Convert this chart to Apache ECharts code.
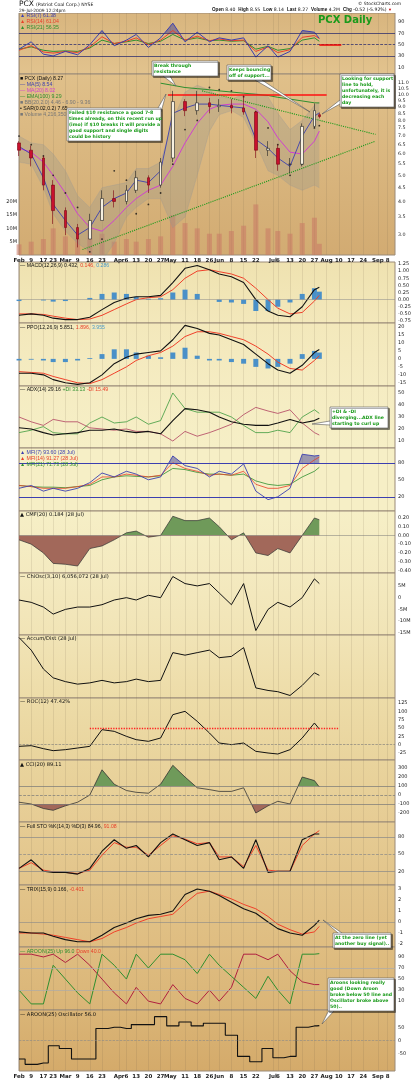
<!DOCTYPE html>
<html>
<head>
<meta charset="utf-8">
<script src="https://cdn.jsdelivr.net/npm/echarts@6/dist/echarts.min.js"></script>
<style>
  html, body { margin: 0; padding: 0; background: #fff; }
  #chart { width: 416px; height: 1080px; }
</style>
</head>
<body>
<div id="chart"></div>
<script>
// weekly sample dates (trading-day category names)
var dates = ['2/2','2/9','2/17','2/23','3/2','3/9','3/16','3/23','3/30','4/6','4/13','4/20','4/27','5/4','5/11','5/18','5/26','6/1','6/8','6/15','6/22','6/29','7/6','7/13','7/20','7/27','7/29'];
var dateLabels = {'2/2':'Feb','2/9':'9','2/17':'17','2/23':'23','3/2':'Mar','3/9':'9','3/16':'16','3/23':'23','4/1':'Apr','4/6':'6','4/13':'13','4/20':'20','4/27':'27','5/1':'May','5/11':'11','5/18':'18','5/26':'26','6/1':'Jun','6/8':'8','6/15':'15','6/22':'22','7/1':'Jul','7/6':'6','7/13':'13','7/20':'20','7/27':'27','8/3':'Aug','8/10':'10','8/17':'17','8/24':'24','9/1':'Sep','9/8':'8'};

// price
var priceOpen  = [6.6,6.2,5.8,4.6,3.7,3.2,2.9,3.4,4.1,4.0,4.4,4.9,4.6,5.8,9.4,8.7,9.3,9.0,9.1,8.9,8.6,6.2,6.3,5.5,5.5,7.6,8.4];
var priceClose = [6.2,5.8,4.6,3.7,3.2,2.9,3.4,4.1,4.0,4.4,4.9,4.6,5.6,9.4,8.7,9.3,9.0,9.1,8.9,8.6,6.2,6.3,5.5,5.5,7.6,8.7,8.27];
var priceLow   = [5.9,5.4,4.4,3.3,3.0,2.7,2.9,3.4,3.8,3.9,4.3,4.3,4.5,5.6,8.3,8.4,8.5,8.6,8.5,8.4,5.8,5.9,5.2,5.1,5.4,7.5,8.14];
var priceHigh  = [6.7,6.45,5.9,4.8,3.8,3.3,3.6,4.4,4.4,4.6,5.2,5.0,5.8,10.3,9.6,10.3,9.7,9.6,9.6,9.9,8.7,6.7,6.5,5.8,7.8,9.25,8.55];
var ma5   = [6.4,6.0,4.9,3.9,3.4,3.0,3.2,3.8,4.1,4.3,4.8,4.7,5.2,8.5,8.9,9.2,9.2,9.1,9.0,8.9,6.8,6.3,5.8,5.4,7.0,8.3,8.54];
var ma20  = [6.3,6.1,5.6,5.0,4.3,3.6,3.2,3.1,3.4,3.8,4.1,4.4,4.6,5.4,6.6,7.8,8.8,9.1,9.2,9.2,8.8,7.9,6.9,6.1,6.0,6.7,7.3];
var ema   = [null,null,null,null,null,null,null,null,null,null,null,null,11.0,10.8,10.6,10.5,10.4,10.3,10.2,10.1,10.0,9.9,9.75,9.6,9.45,9.3,9.29];
var bbUp  = [7.0,6.6,6.5,6.0,5.2,4.2,3.8,4.5,4.6,4.7,5.3,5.3,5.6,8.0,10.2,10.8,10.4,9.8,9.6,10.0,10.1,9.8,8.5,7.4,8.0,9.1,9.36];
var bbLow = [5.6,5.5,4.5,3.6,3.1,2.8,2.6,2.4,2.8,3.5,3.8,4.1,4.1,3.2,3.5,5.0,7.3,8.4,8.7,8.2,6.6,5.2,5.0,4.6,4.4,4.6,4.5];
var sar   = [7.0,6.5,5.9,5.0,4.3,3.8,2.6,2.9,5.2,4.8,3.6,3.9,4.3,5.5,7.4,8.0,10.6,10.4,10.3,9.8,8.6,7.5,6.5,5.0,5.5,7.5,7.65];
var volume = [4,5,6,10,7,6,12,8,5,6,5,6,7,15,12,10,8,8,9,11,19,10,9,8,12,14,4.2];

var rsi7  = [42,55,33,30,38,32,50,75,48,58,68,45,62,88,55,72,55,62,58,62,28,48,28,38,75,72,61];
var rsi14 = [40,48,37,35,38,36,46,64,52,56,62,50,58,75,58,65,57,60,57,58,38,46,36,41,63,66,61];
var rsi21 = [42,46,40,38,39,38,44,58,52,55,58,52,56,68,58,62,57,58,56,57,42,47,40,43,58,62,56];

var macd    = [-0.55,-0.5,-0.55,-0.65,-0.7,-0.7,-0.62,-0.35,-0.1,0.05,0.1,0.1,0.15,0.6,1.1,1.2,1.05,0.9,0.8,0.6,0.0,-0.4,-0.55,-0.6,-0.25,0.35,0.43];
var macdSig = [-0.5,-0.5,-0.52,-0.58,-0.65,-0.7,-0.68,-0.55,-0.35,-0.15,0.0,0.07,0.1,0.35,0.75,1.0,1.05,0.98,0.9,0.75,0.4,0.0,-0.3,-0.5,-0.45,-0.05,0.15];
var macdHist = [-0.05,0,-0.03,-0.07,-0.05,0,0.06,0.2,0.25,0.2,0.1,0.03,0.05,0.25,0.35,0.2,0,-0.08,-0.1,-0.15,-0.4,-0.4,-0.25,-0.1,0.2,0.4,0.28];

var ppo     = [-9,-9,-10,-13,-15,-16,-15,-10,-3,1,3,4,5,12,21,19,16,15,12,9,3,-3,-7,-9,-4,4,5.85];
var ppoSig  = [-8,-8.5,-9,-11,-13,-15,-15.5,-13,-9,-5,-1,2,4,8,14,17,17,16,14,12,8,3,-2,-6,-7,-1,1.9];
var ppoHist = [-1,-0.5,-1,-2,-2,-1,0.5,3,6,6,4,2,1,4,7,2,-1,-1,-2,-3,-5,-6,-5,-3,3,5,4];

var adx     = [21,20,17,15,16,17,19,19,20,18,17,18,16,27,37,36,34,30,26,24,23,23,25,28,25,27,29];
var plusDI  = [17,19,22,17,16,16,25,30,25,26,30,24,27,50,37,34,34,34,30,23,17,17,19,17,30,36,33];
var minusDI = [30,26,23,28,26,26,21,20,19,20,18,18,16,10,18,14,17,20,24,32,38,35,33,36,25,17,15];

var mfi7  = [35,40,30,35,30,35,45,62,55,65,60,50,55,92,75,70,55,65,60,78,30,15,20,35,95,92,93];
var mfi14 = [40,38,35,35,35,38,42,55,55,60,58,55,58,80,70,65,58,60,58,65,42,35,35,40,70,85,90];
var mfi21 = [40,38,37,37,36,38,40,50,55,57,56,55,57,70,68,63,60,60,58,60,48,42,40,42,55,65,72];

var cmf = [-0.05,-0.1,-0.2,-0.32,-0.33,-0.35,-0.15,-0.12,-0.05,0.03,0.05,-0.02,0.0,0.22,0.17,0.17,0.2,0.1,-0.05,0.03,-0.2,-0.23,-0.15,-0.2,0.0,0.2,0.18];
var chiOsc = [-1,-2,-4,-7,-5,-4,-4,-3,-1,0,-1,1,0,9,6,5,6,2,-3,6,-14,-5,-2,-4,0,8,6];
var accDist = [100,90,75,68,65,63,64,66,64,65,67,65,66,88,86,88,90,84,85,92,60,58,57,54,62,72,70];
var roc = [-5,-3,-12,-18,-15,-10,-5,45,40,25,15,10,20,90,100,70,35,5,0,5,-20,-25,-28,-15,20,65,47];
var cci = [-80,-100,-150,-170,-120,-80,0,280,120,50,30,20,120,330,200,80,60,40,40,80,-200,-120,-70,-100,200,160,89];
var stoK = [25,40,20,18,18,15,25,55,75,60,65,45,70,85,75,65,70,40,45,25,75,18,20,20,75,85,85];
var stoD = [25,35,22,19,18,16,22,48,70,62,62,48,65,82,76,68,70,45,45,28,65,22,20,20,65,85,91];
var trix = [-0.9,-1.0,-1.0,-1.3,-1.6,-1.8,-1.8,-1.2,-0.5,-0.1,0.3,0.6,0.7,1.0,2.5,3.0,2.8,2.4,1.8,1.2,0.8,0.0,-0.6,-1.0,-1.2,-0.3,0.17];
var trixSig = [-1.0,-1.0,-1.1,-1.2,-1.4,-1.6,-1.8,-1.5,-0.9,-0.5,-0.1,0.3,0.5,0.7,1.7,2.6,2.8,2.5,2.1,1.6,1.2,0.5,-0.2,-0.7,-1.1,-0.9,-0.4];
var aroonUp   = [30,5,5,75,50,25,5,95,75,50,95,70,95,95,85,60,95,75,55,35,15,55,30,5,95,95,96];
var aroonDown = [95,95,90,95,80,95,75,50,25,5,35,10,5,40,15,5,30,10,35,95,95,85,95,65,45,40,40];
var aroonOsc  = [-70,-90,-85,-20,-30,-70,-70,45,50,45,60,60,90,55,70,55,65,65,20,-60,-80,-30,-65,-60,50,55,56];

// trading-day categories Feb 2 .. Sep 11, 2009
var holidays = {'2/16':1,'4/10':1,'5/25':1,'7/3':1,'9/7':1};
var cats = [];
for (var t = new Date(2009, 1, 2); t <= new Date(2009, 8, 11); t.setDate(t.getDate() + 1)) {
    var wd = t.getDay();
    var key = (t.getMonth() + 1) + '/' + t.getDate();
    if (wd === 0 || wd === 6 || holidays[key]) continue;
    cats.push(key);
}
function pts(arr) { return dates.map(function (d, i) { return [d, arr[i]]; }); }
function isLabel(idx, val) { return dateLabels[val] !== undefined; }

var panels = [
    {top: 13, h: 61, min: -2, max: 106, ticks: [10,30,50,70,90], c1: '#d8b57e', c2: '#e2c38e'},
    {top: 74, h: 181, log: true, c1: '#e0c08a', c2: '#d2ab72'},
    {top: 262, h: 61, min: -0.82, max: 1.32, ticks: [-0.75,-0.5,-0.25,0,0.25,0.5,0.75,1,1.25], fmt: function (v) { return v.toFixed(2); }, c1: '#efe2b0', c2: '#f3e8bb'},
    {top: 323, h: 63, min: -17, max: 22.5, ticks: [-15,-10,-5,0,5,10,15,20], c1: '#f3e8bb', c2: '#f5ecc2'},
    {top: 386, h: 62, min: 4.2, max: 55.8, ticks: [10,20,30,40,50], c1: '#f5ecc2', c2: '#f6efc6'},
    {top: 448, h: 63, min: -5, max: 106, ticks: [20,50,80], c1: '#f6efc6', c2: '#f6efc6'},
    {top: 511, h: 62, min: -0.43, max: 0.28, ticks: [-0.4,-0.3,-0.2,-0.1,0,0.1,0.2], fmt: function (v) { return v.toFixed(2); }, c1: '#f6efc6', c2: '#f4eac0'},
    {top: 573, h: 62, min: -15.9, max: 10.5, ticks: [-15,-10,-5,0,5], fmt: function (v) { return v === 0 ? '0' : v + 'M'; }, c1: '#f4eac0', c2: '#f1e4b6'},
    {top: 635, h: 63, min: 52, max: 102, ticks: [], c1: '#f1e4b6', c2: '#eddca8'},
    {top: 698, h: 62, min: -46, max: 140, ticks: [-25,0,25,50,75,100,125], c1: '#eddca8', c2: '#e9d49d'},
    {top: 760, h: 62, min: -300, max: 389, ticks: [-200,-100,0,100,200,300], c1: '#e9d49d', c2: '#e6cc94'},
    {top: 822, h: 63, min: -4, max: 106, ticks: [20,50,80], c1: '#e6cc94', c2: '#e2c48a'},
    {top: 885, h: 62, min: -2.27, max: 3.36, ticks: [-2,-1,0,1,2,3], c1: '#e2c48a', c2: '#dfbd81'},
    {top: 947, h: 63, min: -6, max: 108, ticks: [10,30,50,70,90], c1: '#dfbd81', c2: '#dab577'},
    {top: 1010, h: 62, min: -115, max: 115, ticks: [-50,0,50], c1: '#dab577', c2: '#d4aa6a'}
];

var grids = [], xAxes = [], yAxes = [];
panels.forEach(function (p, i) {
    grids.push({left: 19, right: 21, top: p.top, height: p.h, show: true, borderColor: '#9a8a78', borderWidth: 1,
        backgroundColor: {type: 'linear', x: 0, y: 0, x2: 0, y2: 1, colorStops: [{offset: 0, color: p.c1}, {offset: 1, color: p.c2}]}});
    xAxes.push({type: 'category', gridIndex: i, data: cats, boundaryGap: false,
        axisLine: {show: false}, axisTick: {show: false},
        axisLabel: {show: i === 1 || i === 14, interval: isLabel, fontSize: 5.5, fontWeight: 'bold', color: '#222', margin: 3,
            formatter: function (v) { return dateLabels[v]; }},
        splitLine: {show: true, interval: isLabel, lineStyle: {color: 'rgba(110,90,70,0.22)', width: 0.6}}});
    var y = {gridIndex: i, position: 'right', scale: true,
        axisLine: {show: false}, axisTick: {show: false},
        axisLabel: {fontSize: 5, color: '#222', margin: 3, customValues: p.ticks, formatter: p.fmt},
        splitLine: {show: false}};
    if (p.log) {
        y.type = 'log'; y.logBase = 10; y.min = 2.53; y.max = 11.9;
        y.axisLabel.customValues = [3.0,3.5,4.0,4.5,5.0,5.5,6.0,6.5,7.0,7.5,8.0,8.5,9.0,9.5,10.0,10.5,11.0];
        y.axisLabel.formatter = function (v) { return v.toFixed(1); };
        y.axisLabel.fontSize = 4.8;
    } else {
        y.type = 'value'; y.min = p.min; y.max = p.max;
    }
    yAxes.push(y);
});
// volume overlay axis on price panel (index 15)
yAxes.push({gridIndex: 1, type: 'value', position: 'left', min: 0, max: 68,
    axisLine: {show: false}, axisTick: {show: false}, splitLine: {show: false},
    axisLabel: {fontSize: 5, color: '#222', margin: 2, customValues: [5,10,15,20], formatter: function (v) { return v + 'M'; }}});

function line(gi, arr, color, w, extra) {
    var s = {type: 'line', xAxisIndex: gi, yAxisIndex: gi, data: pts(arr), symbol: 'none',
        lineStyle: {color: color, width: w || 1}, itemStyle: {color: color}, z: 3};
    for (var k in extra) s[k] = extra[k];
    return s;
}
// reference lines carried by an empty series per panel
function refLines(gi, items) {
    return {type: 'line', xAxisIndex: gi, yAxisIndex: gi, data: [], symbol: 'none', z: 2,
        markLine: {silent: true, symbol: 'none', label: {show: false}, animation: false, data: items}};
}
function h(val, color, type, w) { return {yAxis: val, lineStyle: {color: color, type: type || 'solid', width: w || 0.7}}; }
function seg(a, b, color, type, w) {
    return [{coord: a, lineStyle: {color: color, type: type, width: w}}, {coord: b}];
}
// vertical pixel gradient with hard colour bands (stops in page pixels)
function bands(y0, y1, stops) {
    var cs = [];
    stops.forEach(function (s) {
        cs.push({offset: (s[0] - y0) / (y1 - y0), color: s[1]});
        cs.push({offset: (s[2] - y0) / (y1 - y0), color: s[1]});
    });
    return {type: 'linear', x: 0, y: y0, x2: 0, y2: y1, global: true, colorStops: cs};
}
var bbDiff = bbUp.map(function (v, i) { return v - bbLow[i]; });

var series = [
    refLines(0, [h(70, '#1c1f6b'), h(30, '#1c1f6b'), h(50, '#1c1f6b', 'dashed'), seg(['7/29', 50], ['8/11', 50], '#e00', 'solid', 1.5)]),
    line(0, rsi21, '#2f8f2f', 1),
    line(0, rsi14, '#e8402a', 1),
    line(0, rsi7, '#3b3fb0', 1, {areaStyle: {origin: 50, color: bands(13, 74, [[13, 'rgba(60,60,150,0.7)', 33.3], [33.4, 'rgba(0,0,0,0)', 55.8], [55.9, 'rgba(60,60,150,0.7)', 74]])}}),
    line(1, bbLow, '#9a9a9a', 0.5, {stack: 'bb', lineStyle: {color: 'rgba(150,150,150,0.6)', width: 0.5}}),
    line(1, bbDiff, '#9a9a9a', 0.5, {stack: 'bb', areaStyle: {color: 'rgba(150,150,140,0.45)'}, lineStyle: {color: 'rgba(150,150,150,0.6)', width: 0.5}}),
    {type: 'bar', xAxisIndex: 1, yAxisIndex: 15, data: pts(volume), barWidth: 5,
        itemStyle: {color: 'rgba(200,120,100,0.55)'}, z: 1},
    {type: 'candlestick', xAxisIndex: 1, yAxisIndex: 1, barWidth: 3,
        data: dates.map(function (d, i) { return [d, priceOpen[i], priceClose[i], priceLow[i], priceHigh[i]]; }),
        encode: {x: 0, y: [1, 2, 3, 4]},
        itemStyle: {color: '#f6f0e0', color0: '#c8102e', borderColor: '#222', borderColor0: '#7a0010', borderWidth: 0.6}, z: 5},
    refLines(1, [seg(['4/30', 10], ['8/3', 10], '#ff1010', 'solid', 1.5),
        seg(['3/11', 2.65], ['8/31', 6.7], '#1a9a1a', 'dotted', 1.1),
        seg(['5/20', 10.3], ['8/31', 7.1], '#1a9a1a', 'dotted', 1.1)]),
    line(1, ma20, '#d040d0', 1),
    line(1, ma5, '#3b3fb0', 0.9),
    line(1, ema, '#2f8f2f', 1),
    {type: 'scatter', xAxisIndex: 1, yAxisIndex: 1, data: pts(sar), symbolSize: 1.8, itemStyle: {color: '#111'}, z: 4},
    {type: 'bar', xAxisIndex: 2, yAxisIndex: 2, data: pts(macdHist), barWidth: 5, itemStyle: {color: '#4a90c8'}},
    refLines(2, [h(0, '#888', 'solid', 0.5)]),
    line(2, macdSig, '#f0402a', 1),
    line(2, macd, '#111', 1.1),
    {type: 'bar', xAxisIndex: 3, yAxisIndex: 3, data: pts(ppoHist), barWidth: 5, itemStyle: {color: '#4a90c8'}},
    line(3, ppoSig, '#f0402a', 1),
    line(3, ppo, '#111', 1.1),
    line(4, minusDI, '#b04060', 0.8),
    line(4, plusDI, '#3d9a3d', 0.8),
    line(4, adx, '#111', 1.1),
    refLines(5, [h(80, '#3b3fb0', 'solid', 1.2), h(20, '#3b3fb0', 'solid', 1.2)]),
    line(5, mfi21, '#2f8f2f', 0.8),
    line(5, mfi14, '#e8402a', 0.8),
    line(5, mfi7, '#3b3fb0', 0.9, {areaStyle: {origin: 50, color: bands(448, 511, [[448, 'rgba(60,60,150,0.7)', 462.7], [462.8, 'rgba(0,0,0,0)', 511]])}}),
    refLines(6, [h(0, '#777', 'solid', 0.5)]),
    line(6, cmf, '#333', 0.7, {areaStyle: {origin: 0, opacity: 1, color: bands(511, 573, [[511, '#6f9a5a', 535.3], [535.4, '#a2685a', 573]])}}),
    line(7, chiOsc, '#111', 1),
    line(8, accDist, '#111', 1),
    refLines(9, [h(0, '#777', 'dashed', 0.6), seg(['3/16', 50], ['8/10', 50], '#ff2020', 'dotted', 1.3)]),
    line(9, roc, '#111', 1),
    refLines(10, [h(100, '#777'), h(-100, '#777'), h(0, '#777', 'dashed')]),
    line(10, cci, '#333', 0.8, {areaStyle: {origin: 0, opacity: 1, color: bands(760, 822, [[760, '#6f9a5a', 785.9], [786, 'rgba(0,0,0,0)', 803.9], [804, '#a2685a', 822]])}}),
    refLines(11, [h(80, '#888'), h(20, '#888'), h(50, '#888', 'dashed')]),
    line(11, stoD, '#f0402a', 1),
    line(11, stoK, '#111', 1.1),
    refLines(12, [h(0, '#888', 'solid', 0.6)]),
    line(12, trixSig, '#f0402a', 1),
    line(12, trix, '#111', 1.1),
    refLines(13, [h(70, '#aaa'), h(30, '#aaa')]),
    line(13, aroonDown, '#b02040', 1),
    line(13, aroonUp, '#2f8f2f', 1),
    refLines(14, [h(0, '#888', 'dashed', 0.6)]),
    line(14, aroonOsc, '#111', 1.1, {step: 'middle'})
];

var txt = function (x, y, rich, text, size) {
    return {type: 'text', left: x, top: y, z: 50, style: {text: text, rich: rich, fontSize: size || 5.2, fontFamily: 'DejaVu Sans', fill: '#111', lineHeight: 6}};
};
var titleRich = {r: {fill: '#e8402a', fontSize: 5.2}, g: {fill: '#2f8f2f', fontSize: 5.2}, b: {fill: '#3b3fb0', fontSize: 5.2}, m: {fill: '#d040d0', fontSize: 5.2}, c: {fill: '#4a9ac8', fontSize: 5.2}, x: {fill: '#777', fontSize: 5.2}, k: {fill: '#111', fontSize: 5.2}};
function note(x, y, w, hh, text, tip) {
    var els = [{type: 'rect', shape: {x: x, y: y, width: w, height: hh}, style: {fill: '#fff', stroke: '#555', lineWidth: 0.6, shadowColor: 'rgba(0,0,0,0.5)', shadowOffsetX: 1.5, shadowOffsetY: 1.5}, z: 60},
        {type: 'text', x: x + 2, y: y + 1.5, z: 61, style: {text: text, fill: '#1a9a1a', fontSize: 4.6, fontWeight: 'bold', fontFamily: 'DejaVu Sans', lineHeight: 6}}];
    if (tip) els.push({type: 'polyline', z: 59, shape: {points: tip}, style: {fill: '#fff', stroke: '#555', lineWidth: 0.6}});
    return els;
}
var graphics = [
    {type: 'rect', shape: {x: 0, y: 0, width: 416, height: 13}, style: {fill: '#fff'}},
    txt(19, 0, null, 'PCX', 7.5),
    txt(36, 1.5, null, '(Patriot Coal Corp.) NYSE', 4.6),
    txt(19, 8, null, '29-Jul-2009 12:24pm', 4.4),
    txt(358, 1, null, '© StockCharts.com', 4.4),
    {type: 'text', left: 212, top: 7.5, z: 50, style: {text: '{k|Open} 8.40  {k|High} 8.55  {k|Low} 8.14  {k|Last} 8.27  {k|Volume} 4.2M  {k|Chg} -0.52 (-5.92%) {d|▼}', fontSize: 4.6, fill: '#111', fontFamily: 'DejaVu Sans', rich: {k: {fontWeight: 'bold', fontSize: 4.6}, d: {fill: '#c00', fontSize: 4}}}},
    {type: 'text', left: 318, top: 15, z: 50, style: {text: 'PCX Daily', fontSize: 10, fontWeight: 'bold', fill: '#1a9a1a', fontFamily: 'DejaVu Sans'}},
    txt(20, 13, titleRich, '{b|▲ RSI(7) 61.38}\n{r|▲ RSI(14) 61.04}\n{g|▲ RSI(21) 56.35}'),
    txt(20, 76, titleRich, '{k|■ PCX (Daily) 8.27}\n{b|— MA(5) 8.54}\n{m|— MA(20) 8.02}\n{g|— EMA(100) 9.29}\n{x|■ BB(20,2.0) 4.46 - 6.90 - 9.36}\n{k|• SAR(0.02,0.2) 7.65}\n{x|■ Volume 4,216,350}'),
    txt(20, 263, titleRich, '{k|— MACD(12,26,9) 0.432,} {r|0.146,} {c|0.286}'),
    txt(20, 325, titleRich, '{k|— PPO(12,26,9) 5.851,} {r|1.896,} {c|3.955}'),
    txt(20, 387, titleRich, '{k|— ADX(14) 29.16} {g|+DI 33.13} {r|-DI 15.49}'),
    txt(20, 450, titleRich, '{b|▲ MFI(7) 93.60 (28 Jul)}\n{r|▲ MFI(14) 91.27 (28 Jul)}\n{g|▲ MFI(21) 71.73 (28 Jul)}'),
    txt(20, 512, titleRich, '▲ CMF(20) 0.184 (28 Jul)'),
    txt(20, 574, titleRich, '— ChiOsc(3,10) 6,056,072 (28 Jul)'),
    txt(20, 636, titleRich, '— Accum/Dist (28 Jul)'),
    txt(20, 699, titleRich, '— ROC(12) 47.42%'),
    txt(20, 762, titleRich, '▲ CCI(20) 89.11'),
    txt(20, 824, titleRich, '{k|— Full STO %K(14,3) %D(3) 84.96,} {r|91.08}'),
    txt(20, 887, titleRich, '{k|— TRIX(15,9) 0.166,} {r|-0.401}'),
    txt(20, 949, titleRich, '{g|— AROON(25) Up 96.0} {r|Down 40.0}'),
    txt(20, 1012, titleRich, '— AROON(25) Oscillator 56.0'),
    {type: 'group', children: note(152, 61, 66, 15, 'Break through\nresistance', [[163, 76], [176, 86], [170, 76]])},
    {type: 'group', children: note(227, 65, 44, 15, 'Keeps bouncing\noff of support...', [[255, 80], [310, 112], [262, 80]])},
    {type: 'group', children: note(340, 74, 54, 33, 'Looking for support\nline to hold,\nunfortunately, it is\ndecreasing each\nday', [[340, 100], [322, 114], [340, 104]])},
    {type: 'group', children: note(67, 108, 94, 33, 'Failed $10 resistance a good 7-8\ntimes already, on this recent run up\n(imo) if $10 breaks it will provide a\ngood support and single digits\ncould be history', [[158, 108], [166, 94], [161, 112]])},
    {type: 'group', children: note(330, 407, 58, 21, '+DI & -DI\ndiverging...ADX line\nstarting to curl up', [[330, 421], [312, 424], [330, 425]])},
    {type: 'group', children: note(333, 933, 58, 15, 'At the zero line (yet\nanother buy signal)..', [[338, 933], [323, 920], [342, 933]])},
    {type: 'group', children: note(328, 978, 66, 33, 'Aroons looking really\ngood (Down Aroon\nbroke below 50 line and\nOscillator broke above\n50)..', [[330, 1008], [322, 1024], [334, 1011]])}
];

var chart = echarts.init(document.getElementById('chart'), null, {renderer: 'canvas'});
chart.setOption({
    animation: false,
    backgroundColor: '#fff',
    textStyle: {fontFamily: 'DejaVu Sans'},
    grid: grids,
    xAxis: xAxes,
    yAxis: yAxes,
    series: series,
    graphic: graphics
});
</script>
</body>
</html>
